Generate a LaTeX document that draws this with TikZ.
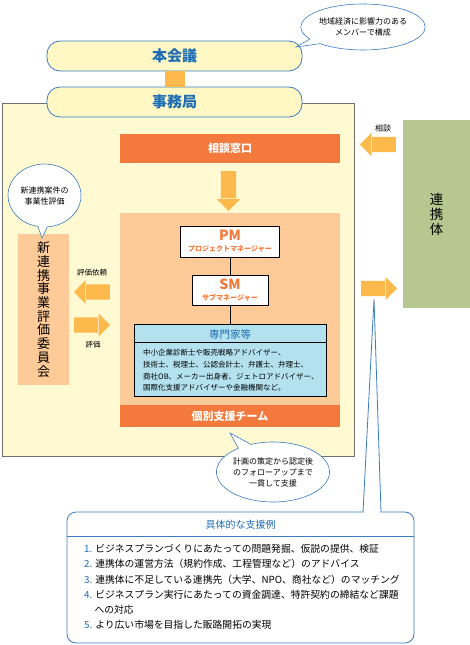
\documentclass[tikz,border=0pt]{standalone}
\usepackage{fontspec}
\setmainfont{Noto Sans CJK JP}
\usetikzlibrary{shapes.arrows,shapes.callouts,calc}

\definecolor{kblue}{HTML}{3B7CC2}
\definecolor{tblue}{HTML}{1F6EB5}
\definecolor{paleyel}{HTML}{FFFAD2}
\definecolor{boxyel}{HTML}{FFF8C4}
\definecolor{peach}{HTML}{FDCA98}
\definecolor{barorg}{HTML}{F3793C}
\definecolor{arrorg}{HTML}{FDB94B}
\definecolor{renkei}{HTML}{B6C890}
\definecolor{skyb}{HTML}{B3E1EE}
\definecolor{framegray}{HTML}{707070}

\newcommand{\shaft}{\rule{0pt}{15pt}\hspace*{15pt}}
\newcommand{\vshaft}{\rule{0pt}{31.5pt}\hspace*{15pt}}

\begin{document}
\begin{tikzpicture}[x=1pt,y=-1pt,
    pill/.style={draw=kblue, line width=0.8pt, fill=boxyel, rounded corners=13pt,
      minimum width=255pt, minimum height=30pt, text=tblue,
      font=\fontsize{15}{15}\selectfont\bfseries},
    band/.style={fill=barorg, text=white, minimum width=220pt, inner sep=0pt,
      font=\fontsize{11}{11}\selectfont\bfseries},
    blk/.style={single arrow, fill=arrorg, inner sep=0pt,
      single arrow head extend=4pt, minimum height=36pt},
    cut/.style={draw=arrorg!40!white, line width=0.9pt},
    wbox/.style={draw, fill=white, line width=0.8pt, inner sep=0pt,
      text=barorg, align=center},
    bubble/.style={ellipse callout, draw=kblue, fill=white, line width=0.6pt,
      align=center, inner sep=0pt, font=\fontsize{8}{11}\selectfont},
    lbl/.style={font=\fontsize{7.5}{7.5}\selectfont}
  ]
  \useasboundingbox (0,0) rectangle (470,645);

  % office frame
  \node[draw=framegray, line width=0.8pt, fill=paleyel, minimum width=352pt,
    minimum height=353pt, inner sep=0pt] (office) at (178,279.5) {};

  % top
  \node[pill] (hon) at (174.5,56) {本会議};
  \node[pill] (jim) at (174.5,102) {事務局};
  \draw[arrorg, line width=20pt] (hon) -- (jim);
  \node[bubble, minimum width=110pt, minimum height=46pt,
    callout absolute pointer={(296,47)}] (note1) at (363,27)
    {地域経済に影響力のある\\メンバーで構成};

  % partners
  \node[fill=renkei, minimum width=67pt, minimum height=188pt, inner sep=0pt,
    align=center, font=\fontsize{13.5}{15}\selectfont] (ren) at (436.5,214) {連\\携\\体};
  \node[blk, shape border rotate=180, anchor=tail] (a2) at (396,144.5) {\shaft};
  \draw[cut] (a2.before head) -- (a2.after head);
  \node[lbl, font=\fontsize{8}{8}\selectfont] (l2) at (383,128) {相談};
  \node[blk, anchor=tail] (a3) at (361,288.5) {\shaft};
  \draw[cut] (a3.before head) -- (a3.after head);

  % support team
  \node[band, minimum height=29pt] (desk) at (230,148.5) {相談窓口};
  \node[blk, shape border rotate=270, anchor=tail] (a1) at (228.5,171) {\vshaft};
  \draw[cut] (a1.before head) -- (a1.after head);
  \node[fill=peach, minimum width=220pt, minimum height=214pt, inner sep=0pt]
    (team) at (230,320) {};
  \node[band, minimum height=22pt] (tb) at (230,416) {個別支援チーム};

  \node[wbox, minimum width=99pt, minimum height=31pt] (pm) at (230,241.5)
    {{\fontsize{14}{14}\selectfont\bfseries PM}\\[-1pt]
     {\fontsize{7}{8}\selectfont\bfseries プロジェクトマネージャー}};
  \node[wbox, minimum width=76pt, minimum height=30pt] (sm) at (230,290)
    {{\fontsize{14}{14}\selectfont\bfseries SM}\\[-1pt]
     {\fontsize{7}{8}\selectfont\bfseries サブマネージャー}};
  \node[draw, fill=skyb, line width=0.8pt, minimum width=192pt, minimum height=72pt,
    inner sep=0pt] (exp) at (230,360) {};
  \draw[line width=0.8pt] ($(exp.north west)+(0,19)$) -- ($(exp.north east)+(0,19)$);
  \node[text=tblue, font=\fontsize{10.5}{10.5}\selectfont] (exph) at (230,334) {専門家等};
  \node[anchor=west, align=left, inner sep=0pt, font=\fontsize{7.5}{11.7}\selectfont]
    (expt) at (143,370.5)
    {中小企業診断士や販売戦略アドバイザー、\\
     技術士、税理士、公認会計士、弁護士、弁理士、\\
     商社OB、メーカー出身者、ジェトロアドバイザー、\\
     国際化支援アドバイザーや金融機関など。};
  \draw[line width=0.8pt] (pm) -- (sm);
  \draw[line width=0.8pt] (sm) -- (exp);

  % evaluation committee
  \node[fill=peach, minimum width=51pt, minimum height=151pt, inner sep=0pt,
    align=center, font=\fontsize{13}{13.7}\selectfont] (iin) at (43.5,309.5)
    {新\\連\\携\\事\\業\\評\\価\\委\\員\\会};
  \node[bubble, minimum width=73pt, minimum height=63pt,
    callout absolute pointer={(42,238)}] (note2) at (44.5,195.5)
    {新連携案件の\\事業性評価};
  \node[blk, shape border rotate=180, anchor=tail] (a4) at (110,292) {\shaft};
  \draw[cut] (a4.before head) -- (a4.after head);
  \node[lbl] (l4) at (92,273) {評価依頼};
  \node[blk, anchor=tail] (a5) at (74,325) {\shaft};
  \draw[cut] (a5.before head) -- (a5.after head);
  \node[lbl] (l5) at (93,345) {評価};

  \node[bubble, minimum width=113pt, minimum height=60pt,
    callout absolute pointer={(230,433)}] (note3) at (273,472)
    {計画の策定から認定後\\のフォローアップまで\\一貫して支援};

  % examples
  \node[draw=kblue, line width=0.8pt, fill=white, rounded corners=9pt,
    minimum width=347pt, minimum height=131pt, inner sep=0pt] (ex) at (240.5,577.5) {};
  \coordinate (tl) at (363,512);
  \coordinate (tr) at (381,512);
  \coordinate (tip) at (374,299);
  \fill[white] ($(tl)+(0.5,1)$) -- (tip) -- ($(tr)+(-0.5,1)$) -- cycle;
  \draw[kblue, line width=0.8pt] (tl) -- (tip) -- (tr);
  \draw[kblue, line width=0.8pt] ($(ex.north west)+(0,25)$) -- ($(ex.north east)+(0,25)$);
  \node[text=tblue, font=\fontsize{10}{10}\selectfont] (exttl) at (240.5,525) {具体的な支援例};
  \node[anchor=north west, align=left, inner sep=0pt,
    font=\fontsize{9.8}{15.3}\selectfont] (list) at (84,544)
    {\textcolor{tblue}{1.} ビジネスプランづくりにあたっての問題発掘、仮説の提供、検証\\
     \textcolor{tblue}{2.} 連携体の運営方法（規約作成、工程管理など）のアドバイス\\
     \textcolor{tblue}{3.} 連携体に不足している連携先（大学、NPO、商社など）のマッチング\\
     \textcolor{tblue}{4.} ビジネスプラン実行にあたっての資金調達、特許契約の締結など課題\\
     \phantom{4.} への対応\\
     \textcolor{tblue}{5.} より広い市場を目指した販路開拓の実現};
\end{tikzpicture}
\end{document}
